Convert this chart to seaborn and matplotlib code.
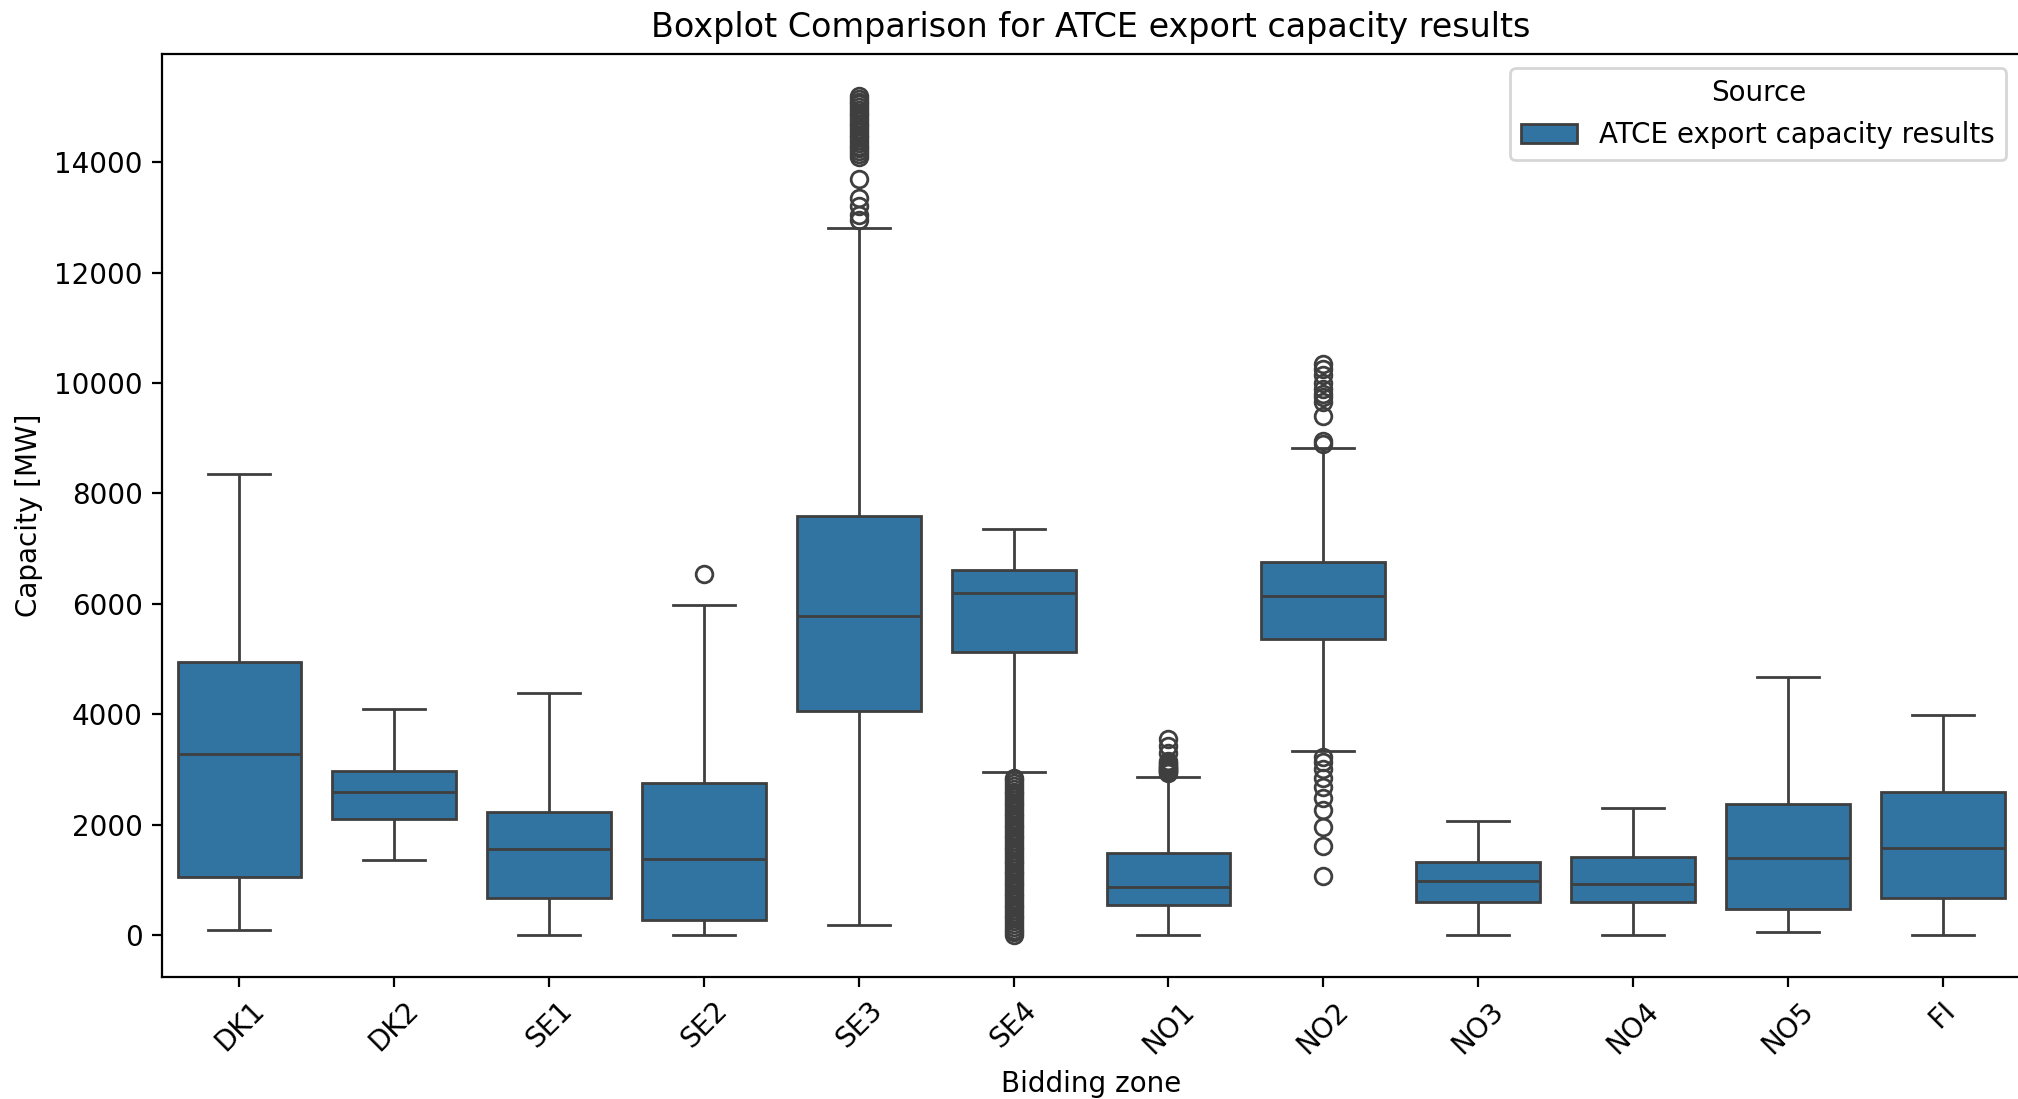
import numpy as np
import pandas as pd
import matplotlib
matplotlib.use("Agg")
import matplotlib.pyplot as plt
import seaborn as sns

# Box statistics (MW)
zones = ["DK1", "DK2", "SE1", "SE2", "SE3", "SE4", "NO1", "NO2", "NO3", "NO4", "NO5", "FI"]
whisker_low = [93, 1351, 0, 0, 186, 2958, 0, 3331, 0, 0, 47, 0]
q1 = [1048, 2096, 675, 280, 4052, 5124, 536, 5357, 606, 606, 466, 675]
median = [3284, 2585, 1560, 1374, 5776, 6195, 862, 6149, 978, 932, 1397, 1584]
q3 = [4938, 2981, 2236, 2748, 7593, 6614, 1491, 6754, 1328, 1421, 2376, 2585]
whisker_high = [8361, 4099, 4379, 5986, 12810, 7360, 2865, 8827, 2073, 2306, 4681, 3983]

# Outliers
outliers_high = {
    "SE2": [6545],
    "SE3": [12950, 13050, 13200, 13350, 13700, 14100, 14150, 14200, 14250, 14300,
            14350, 14400, 14450, 14500, 14550, 14600, 14650, 14700, 14750, 14800,
            14850, 14900, 14950, 15000, 15050, 15100, 15150, 15200],
    "NO1": [2930, 2950, 2970, 2990, 3010, 3030, 3050, 3070, 3090, 3110, 3150,
            3300, 3420, 3550],
    "NO2": [8900, 8950, 9400, 9650, 9750, 9800, 9900, 10000, 10150, 10250, 10350],
}
outliers_low = {
    "SE4": [2850, 2810, 2760, 2700, 2650, 2600, 2550, 2500, 2450, 2400, 2350, 2300,
            2250, 2200, 2150, 2100, 2050, 2000, 1950, 1900, 1850, 1800, 1750, 1700,
            1650, 1600, 1550, 1500, 1450, 1400, 1350, 1300, 1250, 1200, 1150, 1100,
            1050, 1000, 950, 900, 850, 800, 750, 700, 650, 600, 550, 500, 450, 400,
            350, 300, 250, 200, 150, 100, 50, 0],
    "NO2": [3230, 3140, 3000, 2840, 2680, 2490, 2260, 1960, 1610, 1070],
}

source = "ATCE export capacity results"


def build_sample(i, zone):
    # sample of 4k+1 values whose quartiles / whiskers / fliers match the read stats
    lo = sorted(outliers_low.get(zone, []))
    hi = sorted(outliers_high.get(zone, []))
    k = max(len(lo), len(hi)) + 2
    vals = lo + [whisker_low[i]] * (k - len(lo))
    vals += [q1[i]] * k
    vals += [median[i]]
    vals += [q3[i]] * k
    vals += [whisker_high[i]] * (k - len(hi)) + hi
    return vals


rows = []
for i, z in enumerate(zones):
    for v in build_sample(i, z):
        rows.append({"Bidding zone": z, "Capacity": v, "Source": source})
df = pd.DataFrame(rows)

fig = plt.figure(figsize=(10.09, 5.495), dpi=200)
ax = fig.add_axes([0.0803, 0.111, 0.9207, 0.8398])

sns.boxplot(data=df, x="Bidding zone", y="Capacity", hue="Source", order=zones, ax=ax)

ax.set_title("Boxplot Comparison for ATCE export capacity results")
ax.set_xlabel("Bidding zone")
ax.set_ylabel("Capacity [MW]")
plt.setp(ax.get_xticklabels(), rotation=45)
ax.legend(title="Source", loc="upper right")

fig.savefig("out.png", dpi=200)
